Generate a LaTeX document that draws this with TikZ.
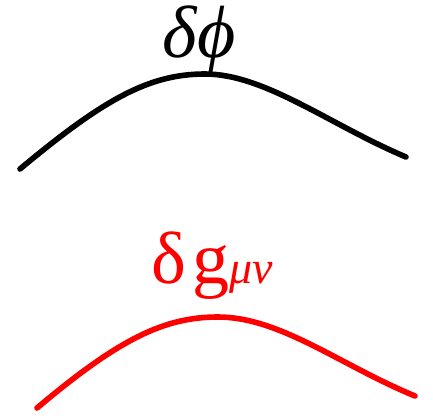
\documentclass[tikz,border=0pt]{standalone}
\usepackage{fontspec}
\setmainfont{Liberation Serif}
\usetikzlibrary{positioning}

\begin{document}
\begin{tikzpicture}[
  x=1pt, y=-1pt,
  every node/.style={font=\fontsize{74}{78}\selectfont, inner sep=0pt},
  wave/.style={line width=5.6pt, line cap=round},
  lbl/.style={anchor=base}
]
\useasboundingbox (0,0) rectangle (433,415);
% Scalar perturbation.
\coordinate (s0) at (20,169);
\coordinate (s1) at (205,74);
\coordinate (s2) at (406,157);
\draw[wave, black] (s0) .. controls (105,98) and (150,74) .. (s1)
  .. controls (265,74) and (330,125) .. (s2);
\node[lbl] (phi) at (199,57) {\textit{δϕ}};

% Metric perturbation.
\coordinate (m0) at (37,408);
\coordinate (m1) at (218,317);
\coordinate (m2) at (415,396);
\draw[wave, red] (m0) .. controls (120,338) and (165,317) .. (m1)
  .. controls (280,317) and (340,365) .. (m2);
\node[lbl, red] (gmn) at (212,283)
  {δ\kern6pt g{\fontsize{46}{50}\selectfont\textit{μν}}};
\end{tikzpicture}
\end{document}
